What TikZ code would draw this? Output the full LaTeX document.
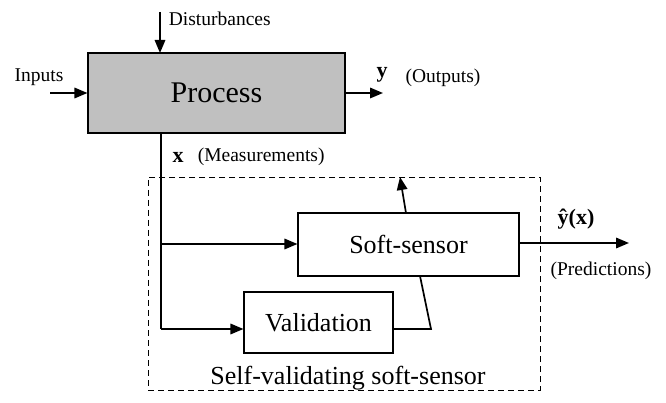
\documentclass[tikz,border=0pt]{standalone}
\usepackage{fontspec}
\setmainfont{Liberation Serif}
\usetikzlibrary{arrows.meta}
\begin{document}
\begin{tikzpicture}[x=1pt,y=-1pt,
  line width=1.7pt,
  arr/.style={-{Triangle[length=13pt,width=10.5pt]}},
  blk/.style={draw, line width=1.1pt, inner sep=0pt},
  lbl/.style={font=\fontsize{19.5}{22}\selectfont, inner sep=0pt},
  big/.style={font=\fontsize{26}{30}\selectfont, inner sep=0pt}]
\useasboundingbox (0,0) rectangle (666,403);
% process
\node[blk, fill={rgb,255:red,192;green,192;blue,192}, minimum width=257pt, minimum height=80pt,
  font=\fontsize{30}{34}\selectfont] (proc) at (216.5,93) {Process};
\coordinate (dtop) at (160,12);
\coordinate (dbot) at (160,53);
\draw[arr] (dtop) -- (dbot);
\node[lbl, anchor=west] (dist) at (168,19) {Disturbances};
\coordinate (inl) at (50,93);
\draw[arr] (inl) -- (proc.west);
\node[lbl] (inp) at (39,77) {Inputs};
\coordinate (outr) at (383,93);
\draw[arr] (proc.east) -- (outr);
\node[lbl, font=\fontsize{22}{24}\selectfont\bfseries] (ylab) at (382,75) {y};
\node[lbl] (outl) at (443,78) {(Outputs)};
\node[lbl, font=\fontsize{22}{24}\selectfont\bfseries] (xlab) at (178,157) {x};
\node[lbl, anchor=west] (meas) at (197,157) {(Measurements)};
% dashed container
\node[draw, dashed, line width=0.9pt, dash pattern=on 6pt off 4pt, minimum width=392pt, minimum height=213pt, inner sep=0pt] (svs) at (344,283.5) {};
\node[big] (svslab) at (348,378) {Self-validating soft-sensor};
% soft sensor and validation
\node[blk, minimum width=221pt, minimum height=63pt, big] (ss) at (408.5,244.5) {Soft-sensor};
\node[blk, minimum width=149pt, minimum height=61pt, big] (val) at (318.5,322.5) {Validation};
% measurement trunk
\coordinate (tr1) at (161,244);
\coordinate (tr2) at (161,329);
\draw (proc.south -| tr1) -- (tr2);
\draw[arr] (tr1) -- (ss.west |- tr1);
\draw[arr] (tr2) -- (val.west |- tr2);
% validation to soft-sensor
\coordinate (vk) at (431,329);
\coordinate (ssb) at (420,276);
\draw (val.east |- vk) -- (vk) -- (ssb);
\coordinate (sst) at (406,213);
\coordinate (vtip) at (400,177);
\draw[arr] (sst) -- (vtip);
% predictions
\coordinate (pr) at (629,243);
\draw[arr] (ss.east |- pr) -- (pr);
\node[lbl, font=\fontsize{22}{24}\selectfont\bfseries] (yhat) at (576,219) {ŷ(x)};
\node[lbl] (pred) at (601,271) {(Predictions)};
\end{tikzpicture}
\end{document}
